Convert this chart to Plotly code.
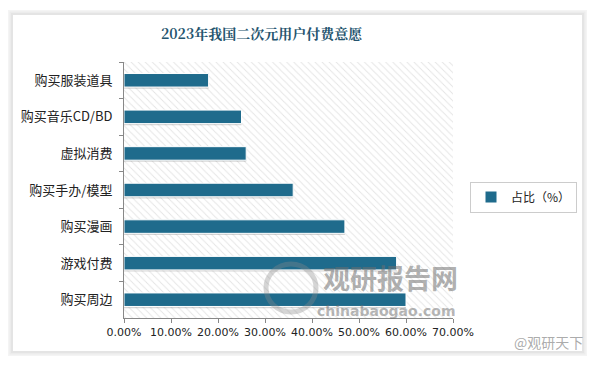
import plotly.graph_objects as go

categories = ["购买服装道具", "购买音乐CD/BD", "虚拟消费", "购买手办/模型", "购买漫画", "游戏付费", "购买周边"]
values = [0.18, 0.25, 0.26, 0.36, 0.47, 0.58, 0.60]
series_name = "占比（%）"
title = "2023年我国二次元用户付费意愿"
x_max = 0.70

W, H = 597, 365
L, R, T, B = 124, 144, 62, 47
pw, ph = W - L - R, H - T - B

def px(x):
    return (x - L) / pw

def py(y):
    return (H - B - y) / ph

bar_color = "#1f6b8c"

fig = go.Figure()

# hatched plot background (fills the whole plotting area)
fig.add_trace(go.Scatter(
    x=[0, x_max, x_max, 0, 0], y=[0, 0, 1, 1, 0], yaxis="y", mode="none",
    fill="toself", fillcolor="white",
    fillpattern=dict(shape="\\", fgcolor="#c9c9c9", bgcolor="white", size=5, solidity=0.18),
    showlegend=False, hoverinfo="skip"))

# shadow of bars
fig.add_trace(go.Bar(
    x=values, y=categories, orientation="h", yaxis="y2", width=0.37, offset=-0.14,
    marker=dict(color="rgba(120,120,120,0.3)", line=dict(width=0)),
    showlegend=False, hoverinfo="skip"))

fig.add_trace(go.Bar(
    x=values, y=categories, orientation="h", yaxis="y2", width=0.37,
    name=series_name,
    marker=dict(color=bar_color, line=dict(color="white", width=1))))

shapes = []
# card shadow
for i, c in enumerate(["#f4f4f4", "#ececec", "#e4e4e4"]):
    d = 4 - i * 1.5
    shapes.append(dict(type="rect", xref="paper", yref="paper", layer="below",
                       x0=px(12 - d), x1=px(583 + d), y0=py(352 + d), y1=py(14 - d),
                       fillcolor=c, line=dict(width=0)))
shapes.append(dict(type="rect", xref="paper", yref="paper", layer="below",
                   x0=px(13), x1=px(582), y0=py(351), y1=py(15),
                   fillcolor="white", line=dict(width=0)))
# watermark logo ring
shapes.append(dict(type="circle", xref="paper", yref="paper", layer="above",
                   x0=px(266), x1=px(316), y0=py(312), y1=py(264),
                   fillcolor="rgba(0,0,0,0)", opacity=0.35,
                   line=dict(color="#8a8a8a", width=5)))

annotations = [
    dict(text="<b>" + title + "</b>", x=px(262), y=py(33), xref="paper", yref="paper",
         showarrow=False, font=dict(family="Noto Serif CJK SC, Noto Sans CJK SC", size=14, color="#24546e"),
         xanchor="center", yanchor="middle"),
    dict(text="<b>观研报告网</b>", x=px(390), y=py(277), xref="paper", yref="paper",
         showarrow=False, font=dict(family="Noto Sans CJK SC", size=27, color="rgba(110,110,110,0.55)"),
         xanchor="center", yanchor="middle"),
    dict(text="<b>chinabaogao.com</b>", x=px(386), y=py(311), xref="paper", yref="paper",
         showarrow=False, font=dict(family="DejaVu Sans", size=14, color="rgba(110,110,110,0.5)"),
         xanchor="center", yanchor="middle"),
    dict(text="@观研天下", x=px(548), y=py(342), xref="paper", yref="paper",
         showarrow=False, font=dict(family="Noto Sans CJK SC", size=14, color="rgba(150,150,150,0.8)"),
         xanchor="center", yanchor="middle"),
]

fig.update_layout(
    width=W, height=H, autosize=False,
    margin=dict(l=L, r=R, t=T, b=B, pad=0, autoexpand=False),
    paper_bgcolor="white", plot_bgcolor="rgba(0,0,0,0)",
    barmode="overlay",
    shapes=shapes, annotations=annotations,
    font=dict(family="Noto Sans CJK SC", color="#222222"),
    xaxis=dict(range=[0, x_max], dtick=0.1, tickformat=".2%", showgrid=False, zeroline=False,
               automargin=False,
               showline=True, linecolor="#888888", linewidth=1, ticks="outside", ticklen=4,
               tickcolor="#888888", tickfont=dict(size=11, family="DejaVu Sans", color="#222222")),
    yaxis=dict(range=[0, 1], autorange=False, visible=False, fixedrange=True, automargin=False),
    yaxis2=dict(overlaying="y", side="left", autorange="reversed", showgrid=False, zeroline=False,
                automargin=False,
                showline=True, linecolor="#888888", linewidth=1, ticks="outside", ticklen=4,
                tickcolor="#888888", tickson="boundaries", ticklabelstandoff=8,
                tickfont=dict(size=13, family="Noto Sans CJK SC", color="#222222")),
    legend=dict(x=px(577), y=py(197), xanchor="right", yanchor="middle",
                bordercolor="#cccccc", borderwidth=1, bgcolor="white", itemwidth=30,
                font=dict(size=12, family="Noto Sans CJK SC", color="#222222")),
)

fig.write_html("out.html", config={"displayModeBar": False},
               post_script="document.body.style.margin='0';document.body.style.padding='0';document.body.style.overflow='hidden';")
